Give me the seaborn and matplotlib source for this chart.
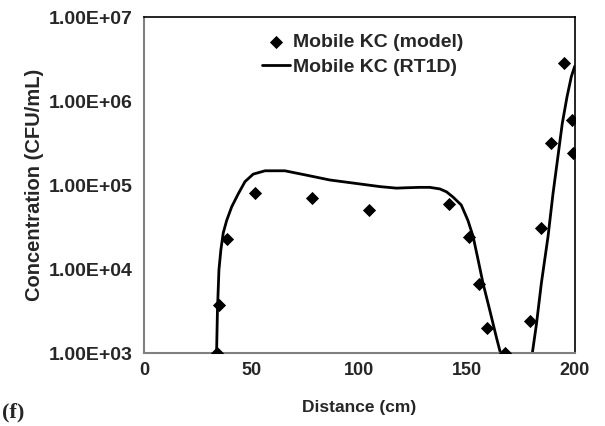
import matplotlib
matplotlib.use("Agg")
import matplotlib.pyplot as plt
import seaborn as sns
import pandas as pd

# Measured points: Mobile KC (model)
model_x = [33.9, 34.8, 38.5, 51.5, 78.0, 104.4, 141.5, 150.8, 155.4, 159.2, 167.5, 179.0, 184.2, 189.2, 195.0, 198.6, 199.3]
model_y = [1.0e3, 3.7e3, 2.3e4, 8.0e4, 7.0e4, 5.0e4, 5.9e4, 2.4e4, 6.6e3, 2.0e3, 1.0e3, 2.4e3, 3.1e4, 3.2e5, 2.8e6, 5.9e5, 2.4e5]

# Simulated curve: Mobile KC (RT1D)
rt_x = [33.7, 34.1, 34.8, 35.7, 36.8, 38.4, 40.7, 43.8, 46.9, 50.7, 56.2, 65.4, 75.0, 86.3, 98.0, 109.5, 117.2, 122.0,
        128.0, 132.7, 137.4, 140.5, 143.5, 147.3, 150.4, 152.8, 155.1, 157.4, 160.6, 163.6, 166.5, 168.0,
        179.0, 180.3, 182.2, 184.5, 187.6, 189.9, 192.2, 194.2, 196.4, 198.4, 200.0]
rt_y = [1.0e3, 3.2e3, 9.8e3, 1.7e4, 2.7e4, 3.8e4, 5.5e4, 7.9e4, 1.1e5, 1.35e5, 1.48e5, 1.48e5, 1.32e5, 1.15e5, 1.05e5, 9.6e4, 9.2e4, 9.3e4,
        9.4e4, 9.4e4, 9.0e4, 8.3e4, 7.2e4, 5.8e4, 3.8e4, 2.45e4, 1.3e4, 6.8e3, 3.2e3, 1.55e3, 8.0e2, 6.0e2,
        6.0e2, 1.0e3, 2.2e3, 6.8e3, 2.45e4, 7.9e4, 2.2e5, 5.4e5, 1.12e6, 1.95e6, 2.6e6]

x_ticks = [0, 50, 100, 150, 200]
y_ticks = [1e3, 1e4, 1e5, 1e6, 1e7]
y_tick_labels = ["1.00E+03", "1.00E+04", "1.00E+05", "1.00E+06", "1.00E+07"]

sns.set_theme(style="white")
plt.rcParams['font.family'] = ['Liberation Sans', 'DejaVu Sans']

fig = plt.figure(figsize=(6.05, 4.26), dpi=100)
ax = fig.add_axes([0.238, 0.171, 0.712, 0.789])

df_model = pd.DataFrame({"x": model_x, "y": model_y})
df_rt = pd.DataFrame({"x": rt_x, "y": rt_y})

sns.lineplot(data=df_rt, x="x", y="y", ax=ax, color="black", linewidth=2.0,
             label="Mobile KC (RT1D)", sort=False, zorder=2)
sns.scatterplot(data=df_model, x="x", y="y", ax=ax, color="black", marker="D",
                s=45, edgecolor="black", linewidth=0, label="Mobile KC (model)", zorder=3)

ax.set_yscale("log")
ax.set_xlim(0, 200)
ax.set_ylim(1e3, 1e7)
ax.set_xticks(x_ticks)
ax.set_xticklabels([str(t) for t in x_ticks])
ax.set_yticks(y_ticks)
ax.set_yticklabels(y_tick_labels)
ax.yaxis.set_minor_locator(matplotlib.ticker.NullLocator())

for lab in ax.get_xticklabels():
    lab.set_fontweight("bold")
    lab.set_fontsize(13)
for lab in ax.get_yticklabels():
    lab.set_fontweight("bold")
    lab.set_fontsize(14)

ax.tick_params(axis="both", which="major", direction="out", length=3.5, width=1,
               color="#808080")
ax.tick_params(axis="x", pad=3)
ax.tick_params(axis="y", pad=5)

ax.set_xlabel("Distance (cm)", fontsize=12.5, fontweight="bold", labelpad=15)
ax.set_ylabel("Concentration (CFU/mL)", fontsize=14.5, fontweight="bold", labelpad=3)

for side in ["top", "right"]:
    ax.spines[side].set_color("black")
    ax.spines[side].set_linewidth(1.2)
for side in ["left", "bottom"]:
    ax.spines[side].set_color("#808080")
    ax.spines[side].set_linewidth(1.5)

handles, labels = ax.get_legend_handles_labels()
order = [labels.index("Mobile KC (model)"), labels.index("Mobile KC (RT1D)")]
leg = ax.legend([handles[i] for i in order], [labels[i] for i in order],
                loc="upper left", bbox_to_anchor=(262 / 605, 1 - 33 / 426),
                bbox_transform=fig.transFigure, frameon=False,
                prop={"weight": "bold", "size": 14}, handlelength=1.45,
                handletextpad=0.15, labelspacing=0.4, borderpad=0, borderaxespad=0)

fig.text(0.004, 0.02, "(f)", fontsize=16, fontweight="bold",
         family=["Liberation Serif", "DejaVu Serif"])

fig.savefig("out.png", dpi=100)
